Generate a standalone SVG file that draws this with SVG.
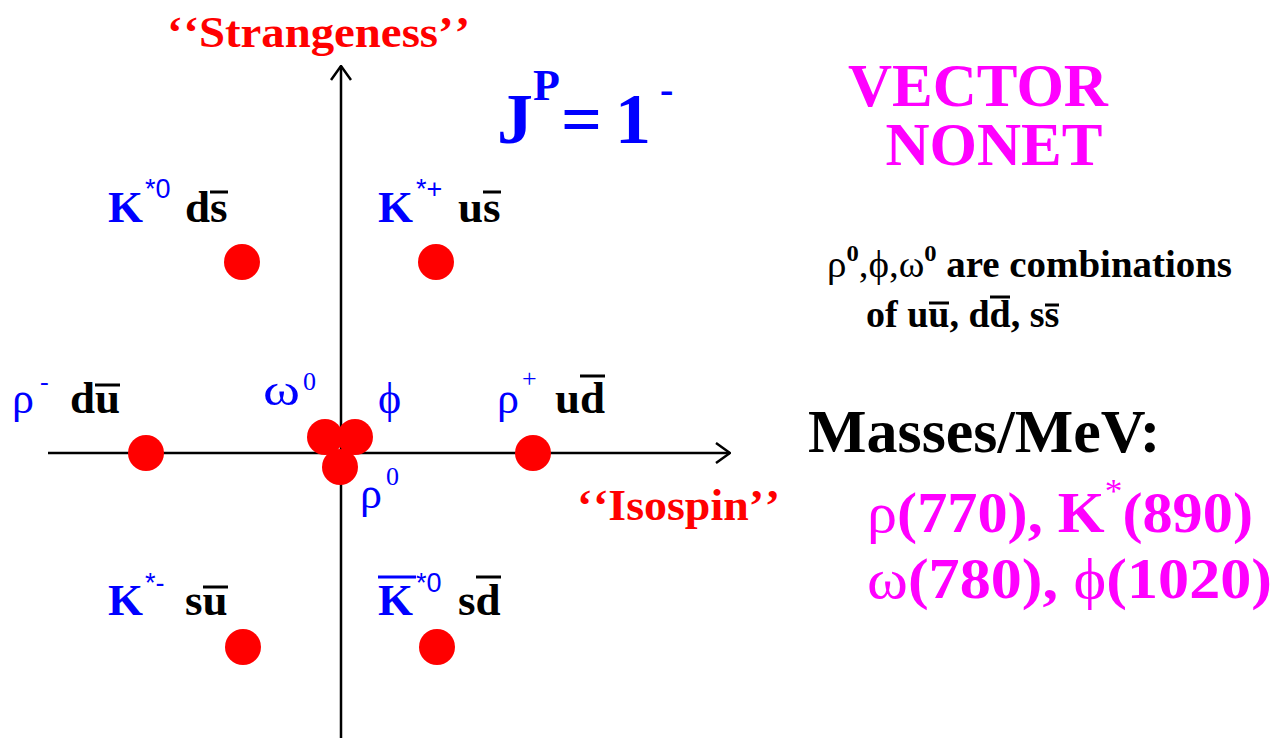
<svg xmlns="http://www.w3.org/2000/svg" width="1282" height="738" viewBox="0 0 1282 738">
<style>
.serif{font-family:"Liberation Serif","Times New Roman",serif}
.b{font-weight:bold}
.blue{fill:#0000ff}
.red{fill:#ff0000}
.mag{fill:#ff00ff}
.blk{fill:#000}
.lab{font-family:"Liberation Serif","Times New Roman",serif;font-weight:bold;font-size:45px}
.sup{font-family:"Liberation Sans",Arial,sans-serif;font-size:27px}
.greek{font-family:"Liberation Serif","Times New Roman",serif;font-size:44px;fill:#0000ff}
.gsup{font-family:"Liberation Serif","Times New Roman",serif;font-size:26px;fill:#0000ff}
.dot{fill:#ff0000}
.bar{stroke:#000;stroke-width:3}
.bbar{stroke:#0000ff;stroke-width:3}
.axis{stroke:#000;stroke-width:2.5;fill:none}
</style>
<defs>
<marker id="arr" viewBox="0 0 16 22" refX="15" refY="11" markerWidth="16" markerHeight="22" markerUnits="userSpaceOnUse" orient="auto">
<path d="M1,1 L15,11 L1,21" fill="none" stroke="#000" stroke-width="2.5"/>
</marker>
</defs>
<rect width="1282" height="738" fill="#fff"/>

<g id="connectors">
<line class="axis" x1="341" y1="738" x2="341" y2="66" marker-end="url(#arr)"/>
<line class="axis" x1="48" y1="453" x2="730" y2="453" marker-end="url(#arr)"/>
</g>

<g id="axis-labels">
<text class="serif b red" x="167" y="47" font-size="44" textLength="303" lengthAdjust="spacingAndGlyphs">‘<tspan dx="4">‘</tspan>Strangeness’<tspan dx="4">’</tspan></text>
<text class="serif b red" x="577" y="520" font-size="44" textLength="203" lengthAdjust="spacingAndGlyphs">‘<tspan dx="4">‘</tspan>Isospin’<tspan dx="4">’</tspan></text>
</g>

<g id="title">
<text class="serif b blue" x="497" y="143" font-size="72">J</text>
<text class="serif b blue" x="533" y="100" font-size="44">P</text>
<text class="serif b blue" x="561" y="143" font-size="72">=</text>
<text class="serif b blue" x="615" y="143" font-size="72">1</text>
<text class="serif b blue" x="660" y="103" font-size="40">-</text>
<text class="serif b mag" x="978" y="106" font-size="61" text-anchor="middle">VECTOR</text>
<text class="serif b mag" x="994" y="165" font-size="61" text-anchor="middle">NONET</text>
</g>

<g id="K0star">
<text class="lab blue" x="108" y="222">K</text>
<text class="sup blue" x="145" y="198">*0</text>
<text class="lab blk" x="185" y="222">ds</text>
<line class="bar" x1="210" y1="192" x2="228" y2="192"/>
<circle class="dot" cx="242" cy="262" r="18"/>
</g>

<g id="Kplusstar">
<text class="lab blue" x="378" y="222">K</text>
<text class="sup blue" x="416" y="198">*+</text>
<text class="lab blk" x="458" y="222">us</text>
<line class="bar" x1="483" y1="192" x2="501" y2="192"/>
<circle class="dot" cx="436" cy="262" r="18"/>
</g>

<g id="rhominus">
<text class="greek" x="12" y="413">ρ</text>
<text class="gsup" x="40" y="390">-</text>
<text class="lab blk" x="70" y="413">du</text>
<line class="bar" x1="95" y1="385" x2="120" y2="385"/>
<circle class="dot" cx="146" cy="453" r="18"/>
</g>

<g id="rho0">
<circle class="dot" cx="340" cy="467" r="18"/>
<text class="greek" x="360" y="508">ρ</text>
<text class="gsup" x="386" y="485">0</text>
</g>

<g id="omega0">
<circle class="dot" cx="325" cy="437" r="18"/>
<text class="greek" x="263" y="405" font-size="50" textLength="37" lengthAdjust="spacingAndGlyphs">ω</text>
<text class="gsup" x="303" y="390">0</text>
</g>

<g id="phi">
<circle class="dot" cx="355" cy="437" r="18"/>
<text class="greek" x="378" y="413">ϕ</text>
</g>

<g id="rhoplus">
<text class="greek" x="497" y="413">ρ</text>
<text class="gsup" x="522" y="387">+</text>
<text class="lab blk" x="555" y="413">ud</text>
<line class="bar" x1="580" y1="376" x2="605" y2="376"/>
<circle class="dot" cx="533" cy="453" r="18"/>
</g>

<g id="Kminusstar">
<text class="lab blue" x="108" y="615">K</text>
<text class="sup blue" x="145" y="592">*-</text>
<text class="lab blk" x="185" y="615">su</text>
<line class="bar" x1="203" y1="587" x2="228" y2="587"/>
<circle class="dot" cx="243" cy="647" r="18"/>
</g>

<g id="K0barstar">
<line class="bbar" x1="378" y1="577" x2="416" y2="577"/>
<text class="lab blue" x="378" y="615">K</text>
<text class="sup blue" x="416" y="592">*0</text>
<text class="lab blk" x="458" y="615">sd</text>
<line class="bar" x1="476" y1="577" x2="501" y2="577"/>
<circle class="dot" cx="437" cy="647" r="18"/>
</g>

<g id="note">
<text class="serif blk" x="827" y="277" font-size="38" textLength="405" lengthAdjust="spacingAndGlyphs">ρ<tspan class="b" font-size="24" dy="-16">0</tspan><tspan dy="16">,ϕ,ω</tspan><tspan class="b" font-size="24" dy="-16">0</tspan><tspan class="b" dy="16"> are combinations</tspan></text>
<text class="serif b blk" x="866" y="327" font-size="38">of uu, dd, ss</text>
<line class="bar" x1="929" y1="303" x2="949" y2="303"/>
<line class="bar" x1="990" y1="297" x2="1010" y2="297"/>
<line class="bar" x1="1045" y1="305" x2="1059" y2="305"/>
</g>

<g id="masses">
<text class="serif b blk" x="808" y="452" font-size="62">Masses/MeV:</text>
<text class="serif mag" x="867" y="532" font-size="58" textLength="386" lengthAdjust="spacingAndGlyphs">ρ<tspan class="b">(770), K</tspan><tspan font-size="34" dy="-30">*</tspan><tspan class="b" dy="30">(890)</tspan></text>
<text class="serif mag" x="867" y="598" font-size="58" textLength="405" lengthAdjust="spacingAndGlyphs">ω<tspan class="b">(780), </tspan>ϕ<tspan class="b">(1020)</tspan></text>
</g>
</svg>
